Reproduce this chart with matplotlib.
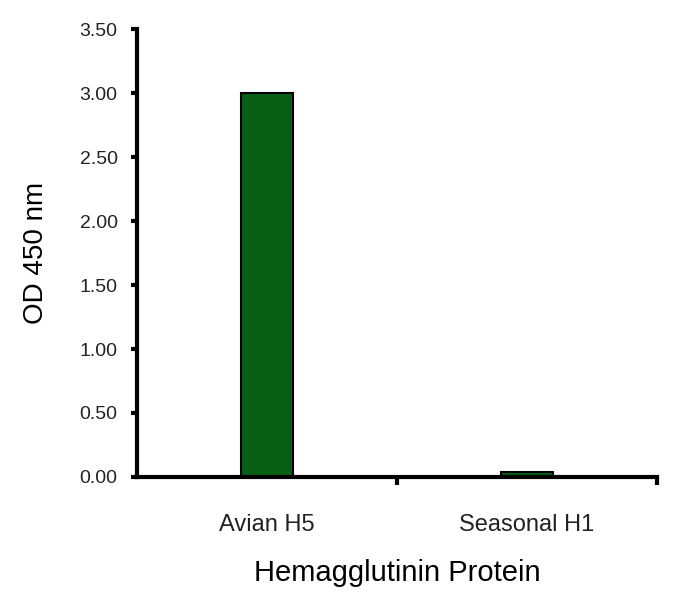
import matplotlib.pyplot as plt
import numpy as np

plt.rcParams['font.family'] = ['Liberation Sans', 'DejaVu Sans']

categories = ['Avian H5', 'Seasonal H1']
od450 = [3.00, 0.04]
yticks = [0.0, 0.5, 1.0, 1.5, 2.0, 2.5, 3.0, 3.5]

fig = plt.figure(figsize=(6.86, 5.94), dpi=100)
ax = fig.add_axes([0.1997, 0.197, 0.758, 0.754])

x = np.arange(len(categories))
ax.bar(x, od450, width=0.2, color='#075f13', edgecolor='black', linewidth=1.5)

ax.set_xlim(-0.5, 1.5)
ax.set_ylim(0, 3.5)
ax.set_yticks(yticks)
ax.set_yticklabels([f'{v:.2f}' for v in yticks], fontsize=14, color='#222222')
ax.set_xticks(x)
ax.set_xticklabels(categories, fontsize=17, color='#222222')
ax.set_xticks([0.5, 1.5], minor=True)
ax.tick_params(axis='x', which='major', length=0, pad=27)
ax.tick_params(axis='x', which='minor', length=6, width=3, direction='out')
ax.tick_params(axis='y', length=4, width=3, direction='out', pad=10)

for s in ['top', 'right']:
    ax.spines[s].set_visible(False)
for s in ['left', 'bottom']:
    ax.spines[s].set_linewidth(3)

ax.set_ylabel('OD 450 nm', fontsize=20, labelpad=22)
ax.set_xlabel('Hemagglutinin Protein', fontsize=21, labelpad=16)

fig.savefig('out.png', dpi=100)
